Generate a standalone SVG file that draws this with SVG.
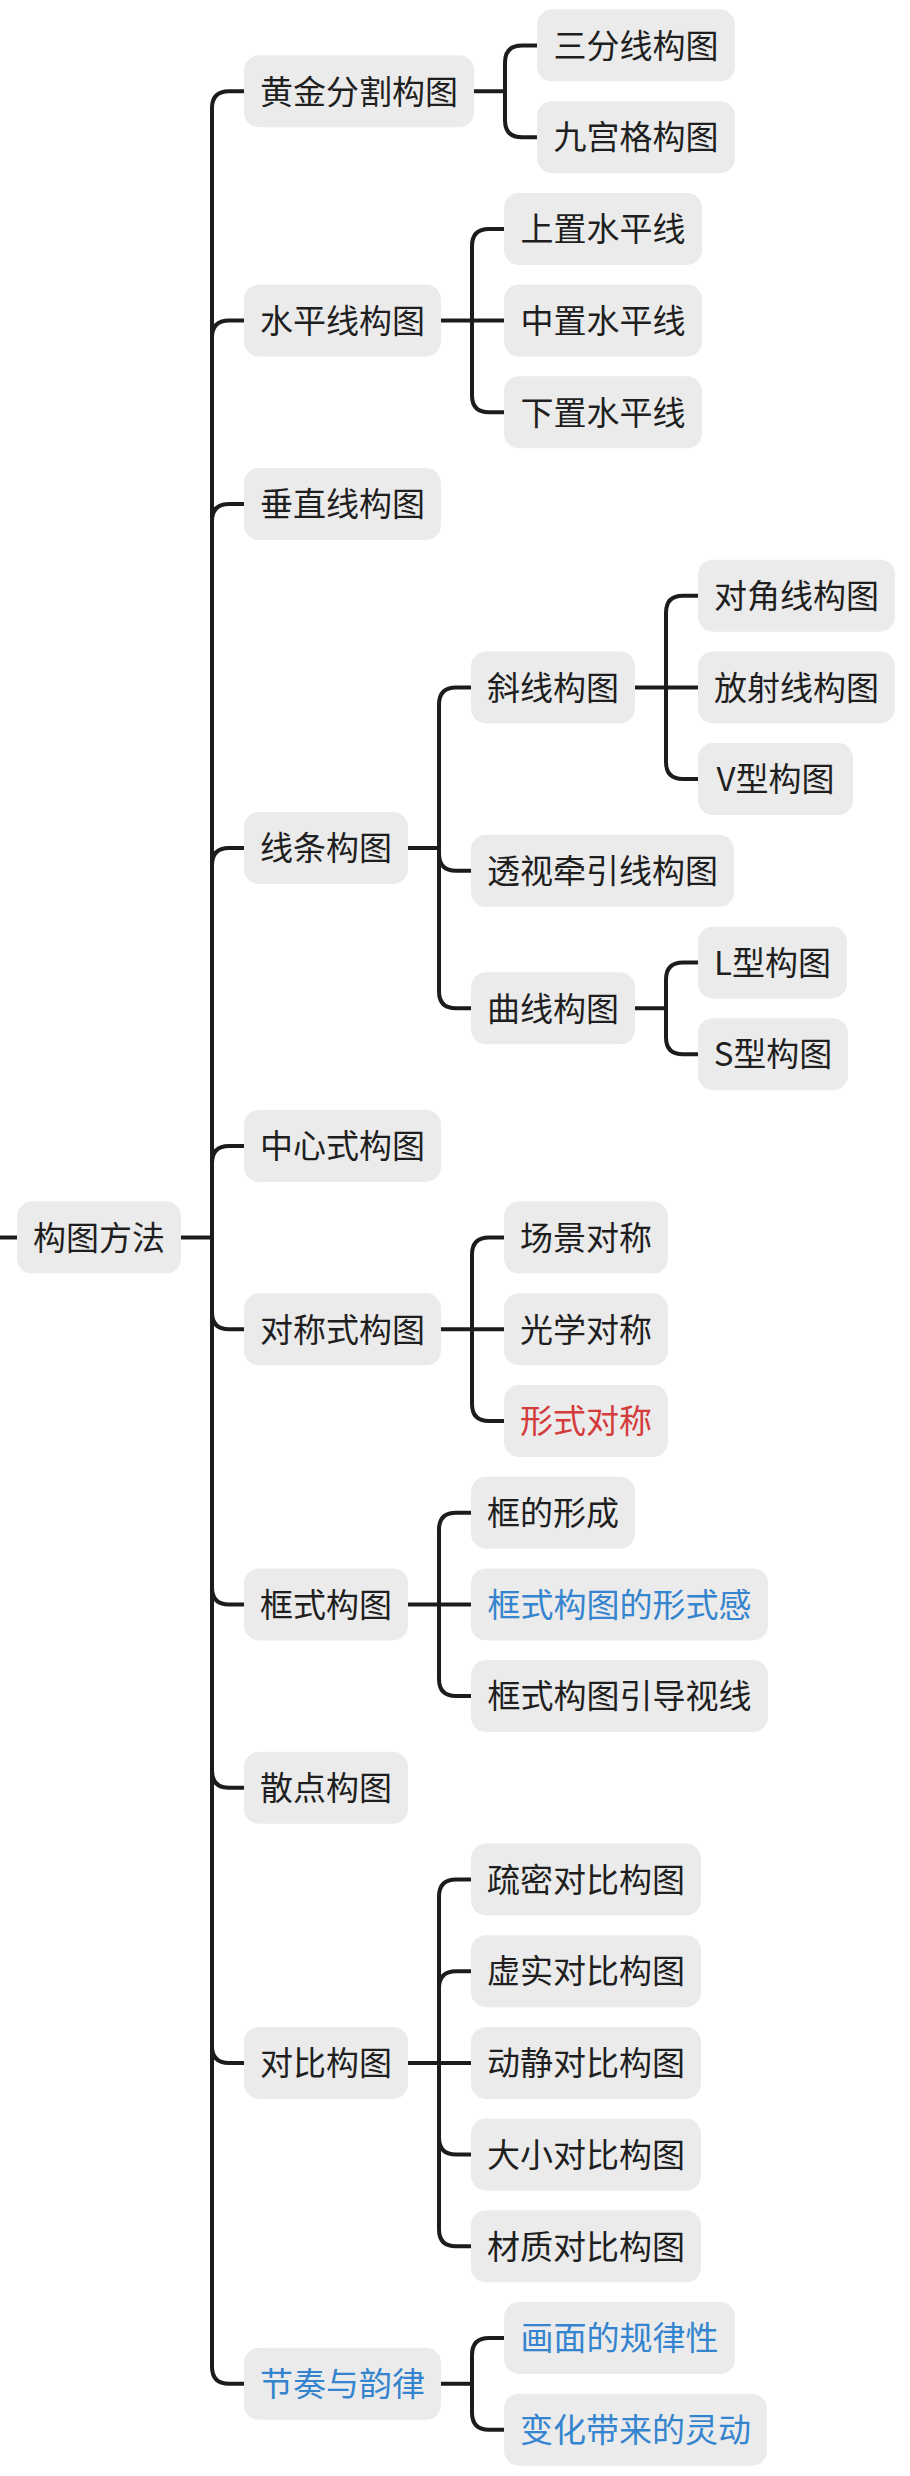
<svg xmlns="http://www.w3.org/2000/svg" width="910" height="2476" viewBox="0 0 910 2476">
<style>
.n rect{fill:#ebebeb}
.n text{font-family:"Noto Sans CJK SC","Noto Sans",sans-serif;font-size:33px;fill:#1f1f1f;text-anchor:middle;dominant-baseline:central;transform:translateY(-1.7px)}
.n.blue text{fill:#3584cf}
.n.red text{fill:#d43b3b}
#connectors path{fill:none;stroke:#1c1c1c;stroke-width:4;stroke-linecap:round;stroke-linejoin:round}
</style>
<rect width="910" height="2476" fill="#ffffff"/>
<g id="connectors">
<path d="M0 1237.6 H17"/>
<path d="M181 1237.6 H212 V108.35 Q212 91.35 229 91.35 H244"/>
<path d="M212 1237.6 V337.6 Q212 320.6 229 320.6 H244"/>
<path d="M212 1237.6 V521 Q212 504 229 504 H244"/>
<path d="M212 1237.6 V864.9 Q212 847.9 229 847.9 H244"/>
<path d="M212 1237.6 V1162.9 Q212 1145.9 229 1145.9 H244"/>
<path d="M212 1237.6 V1312.3 Q212 1329.3 229 1329.3 H244"/>
<path d="M212 1237.6 V1587.4 Q212 1604.4 229 1604.4 H244"/>
<path d="M212 1237.6 V1770.8 Q212 1787.8 229 1787.8 H244"/>
<path d="M212 1237.6 V2045.9 Q212 2062.9 229 2062.9 H244"/>
<path d="M212 1237.6 V2366.85 Q212 2383.85 229 2383.85 H244"/>
<path d="M474 91.35 H505 V62.5 Q505 45.5 522 45.5 H537"/>
<path d="M505 91.35 V120.2 Q505 137.2 522 137.2 H537"/>
<path d="M441 320.6 H472 V245.9 Q472 228.9 489 228.9 H504"/>
<path d="M472 320.6 H504"/>
<path d="M472 320.6 V395.3 Q472 412.3 489 412.3 H504"/>
<path d="M408 847.9 H439 V704.4 Q439 687.4 456 687.4 H471"/>
<path d="M439 847.9 V853.8 Q439 870.8 456 870.8 H471"/>
<path d="M439 847.9 V991.35 Q439 1008.35 456 1008.35 H471"/>
<path d="M635 687.4 H666 V612.7 Q666 595.7 683 595.7 H698"/>
<path d="M666 687.4 H698"/>
<path d="M666 687.4 V762.1 Q666 779.1 683 779.1 H698"/>
<path d="M635 1008.35 H666 V979.5 Q666 962.5 683 962.5 H698"/>
<path d="M666 1008.35 V1037.2 Q666 1054.2 683 1054.2 H698"/>
<path d="M441 1329.3 H472 V1254.6 Q472 1237.6 489 1237.6 H504"/>
<path d="M472 1329.3 H504"/>
<path d="M472 1329.3 V1404 Q472 1421 489 1421 H504"/>
<path d="M408 1604.4 H439 V1529.7 Q439 1512.7 456 1512.7 H471"/>
<path d="M439 1604.4 H471"/>
<path d="M439 1604.4 V1679.1 Q439 1696.1 456 1696.1 H471"/>
<path d="M408 2062.9 H439 V1896.5 Q439 1879.5 456 1879.5 H471"/>
<path d="M439 2062.9 V1988.2 Q439 1971.2 456 1971.2 H471"/>
<path d="M439 2062.9 H471"/>
<path d="M439 2062.9 V2137.6 Q439 2154.6 456 2154.6 H471"/>
<path d="M439 2062.9 V2229.3 Q439 2246.3 456 2246.3 H471"/>
<path d="M441 2383.85 H472 V2355 Q472 2338 489 2338 H504"/>
<path d="M472 2383.85 V2412.7 Q472 2429.7 489 2429.7 H504"/>
</g>

<g id="root" class="n"><rect x="17" y="1201.6" width="164" height="72" rx="15"/><text x="99" y="1237.6">构图方法</text></g>

<g id="n-huangjin" class="n"><rect x="244" y="55.35" width="230" height="72" rx="15"/><text x="359" y="91.35">黄金分割构图</text></g>
<g id="n-sanfen" class="n"><rect x="537" y="9.5" width="198" height="72" rx="15"/><text x="636" y="45.5">三分线构图</text></g>
<g id="n-jiugong" class="n"><rect x="537" y="101.2" width="198" height="72" rx="15"/><text x="636" y="137.2">九宫格构图</text></g>

<g id="n-shuiping" class="n"><rect x="244" y="284.6" width="197" height="72" rx="15"/><text x="342.5" y="320.6">水平线构图</text></g>
<g id="n-shangzhi" class="n"><rect x="504" y="192.9" width="198" height="72" rx="15"/><text x="603" y="228.9">上置水平线</text></g>
<g id="n-zhongzhi" class="n"><rect x="504" y="284.6" width="198" height="72" rx="15"/><text x="603" y="320.6">中置水平线</text></g>
<g id="n-xiazhi" class="n"><rect x="504" y="376.3" width="198" height="72" rx="15"/><text x="603" y="412.3">下置水平线</text></g>

<g id="n-chuizhi" class="n"><rect x="244" y="468" width="197" height="72" rx="15"/><text x="342.5" y="504">垂直线构图</text></g>

<g id="n-xiantiao" class="n"><rect x="244" y="811.9" width="164" height="72" rx="15"/><text x="326" y="847.9">线条构图</text></g>
<g id="n-xiexian" class="n"><rect x="471" y="651.4" width="164" height="72" rx="15"/><text x="553" y="687.4">斜线构图</text></g>
<g id="n-duijiao" class="n"><rect x="698" y="559.7" width="197" height="72" rx="15"/><text x="796.5" y="595.7">对角线构图</text></g>
<g id="n-fangshe" class="n"><rect x="698" y="651.4" width="197" height="72" rx="15"/><text x="796.5" y="687.4">放射线构图</text></g>
<g id="n-vxing" class="n"><rect x="698" y="743.1" width="155" height="72" rx="15"/><text x="775.5" y="779.1">V型构图</text></g>
<g id="n-toushi" class="n"><rect x="471" y="834.8" width="263" height="72" rx="15"/><text x="602.5" y="870.8">透视牵引线构图</text></g>
<g id="n-quxian" class="n"><rect x="471" y="972.35" width="164" height="72" rx="15"/><text x="553" y="1008.35">曲线构图</text></g>
<g id="n-lxing" class="n"><rect x="698" y="926.5" width="149" height="72" rx="15"/><text x="772.5" y="962.5">L型构图</text></g>
<g id="n-sxing" class="n"><rect x="698" y="1018.2" width="150" height="72" rx="15"/><text x="773" y="1054.2">S型构图</text></g>

<g id="n-zhongxin" class="n"><rect x="244" y="1109.9" width="197" height="72" rx="15"/><text x="342.5" y="1145.9">中心式构图</text></g>

<g id="n-duicheng" class="n"><rect x="244" y="1293.3" width="197" height="72" rx="15"/><text x="342.5" y="1329.3">对称式构图</text></g>
<g id="n-changjing" class="n"><rect x="504" y="1201.6" width="164" height="72" rx="15"/><text x="586" y="1237.6">场景对称</text></g>
<g id="n-guangxue" class="n"><rect x="504" y="1293.3" width="164" height="72" rx="15"/><text x="586" y="1329.3">光学对称</text></g>
<g id="n-xingshi" class="n red"><rect x="504" y="1385" width="164" height="72" rx="15"/><text x="586" y="1421">形式对称</text></g>

<g id="n-kuangshi" class="n"><rect x="244" y="1568.4" width="164" height="72" rx="15"/><text x="326" y="1604.4">框式构图</text></g>
<g id="n-kuangde" class="n"><rect x="471" y="1476.7" width="164" height="72" rx="15"/><text x="553" y="1512.7">框的形成</text></g>
<g id="n-xingshigan" class="n blue"><rect x="471" y="1568.4" width="297" height="72" rx="15"/><text x="619.5" y="1604.4">框式构图的形式感</text></g>
<g id="n-yindao" class="n"><rect x="471" y="1660.1" width="297" height="72" rx="15"/><text x="619.5" y="1696.1">框式构图引导视线</text></g>

<g id="n-sandian" class="n"><rect x="244" y="1751.8" width="164" height="72" rx="15"/><text x="326" y="1787.8">散点构图</text></g>

<g id="n-duibi" class="n"><rect x="244" y="2026.9" width="164" height="72" rx="15"/><text x="326" y="2062.9">对比构图</text></g>
<g id="n-shumi" class="n"><rect x="471" y="1843.5" width="230" height="72" rx="15"/><text x="586" y="1879.5">疏密对比构图</text></g>
<g id="n-xushi" class="n"><rect x="471" y="1935.2" width="230" height="72" rx="15"/><text x="586" y="1971.2">虚实对比构图</text></g>
<g id="n-dongjing" class="n"><rect x="471" y="2026.9" width="230" height="72" rx="15"/><text x="586" y="2062.9">动静对比构图</text></g>
<g id="n-daxiao" class="n"><rect x="471" y="2118.6" width="230" height="72" rx="15"/><text x="586" y="2154.6">大小对比构图</text></g>
<g id="n-caizhi" class="n"><rect x="471" y="2210.3" width="230" height="72" rx="15"/><text x="586" y="2246.3">材质对比构图</text></g>

<g id="n-jiezou" class="n blue"><rect x="244" y="2347.85" width="197" height="72" rx="15"/><text x="342.5" y="2383.85">节奏与韵律</text></g>
<g id="n-guilv" class="n blue"><rect x="504" y="2302" width="231" height="72" rx="15"/><text x="619.5" y="2338">画面的规律性</text></g>
<g id="n-linghuo" class="n blue"><rect x="504" y="2393.7" width="263" height="72" rx="15"/><text x="635.5" y="2429.7">变化带来的灵动</text></g>
</svg>
